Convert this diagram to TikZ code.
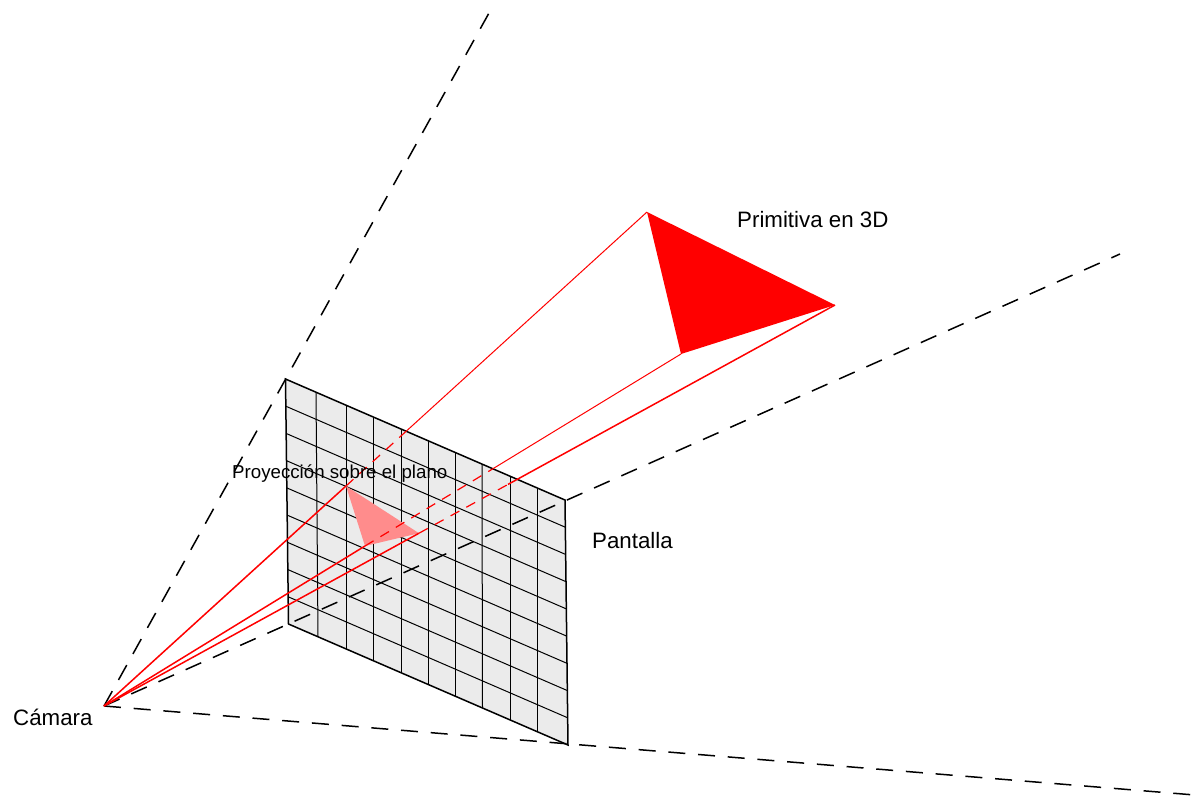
\documentclass[tikz,border=0pt]{standalone}
\usepackage{fontspec}
\setmainfont{Liberation Sans}
\usetikzlibrary{calc}
\tikzset{
  guide/.style={black,line width=1.5pt,dash pattern=on 17pt off 12.8pt},
  gridline/.style={black,line width=1pt},
  edge/.style={black,line width=1.5pt},
  ray/.style={red,line width=1.5pt},
  raythin/.style={red,line width=1pt},
  raydash/.style={red,line width=1.2pt,dash pattern=on 10pt off 8pt},
  lab/.style={inner sep=0pt,anchor=base west,text=black},
}
\definecolor{screenfill}{HTML}{EBEBEB}
\definecolor{projfill}{HTML}{FF8C8C}
\begin{document}
\begin{tikzpicture}[x=1pt,y=-1pt]
\useasboundingbox (0,0) rectangle (1195,796);
\fill[white] (0,0) rectangle (1195,796);
% points
\coordinate (cam) at (104,706);
\coordinate (tl) at (285.5,379);
\coordinate (tr) at (565,500);
\coordinate (br) at (568,745);
\coordinate (bl) at (288.5,624);
\coordinate (g1) at (489,13);
\coordinate (g2) at (1120,254);
\coordinate (g3) at (1195,795);
\coordinate (a) at (647,212);
\coordinate (b) at (835,305);
\coordinate (c) at (681,354);
\coordinate (pa) at (346,486);
\coordinate (pb) at (419,533.2);
\coordinate (pc) at (365,546);
\coordinate (xa) at (406,431.4);
\coordinate (xb) at (508,484.4);
\coordinate (xc) at (492.8,468.8);
% screen
\fill[screenfill] (tl) -- (tr) -- (br) -- (bl) -- cycle;
% grid
\foreach \xtop/\xbot in {316/318,346/346,373/373,401/401,428/428,455/455,482/482.5,510/510,537/537}{
  \pgfmathsetmacro{\ytop}{379+(\xtop-285.5)*0.4329}
  \pgfmathsetmacro{\ybot}{624+(\xbot-288.5)*0.4329}
  \draw[gridline] (\xtop,\ytop) -- (\xbot,\ybot);
}
\foreach \f in {1,...,8}{
  \draw[gridline] ($(tl)!\f/9!(bl)$) -- ($(tr)!\f/9!(br)$);
}
\draw[edge] (tl) -- (tr) -- (br) -- (bl) -- cycle;
% projection
\fill[projfill] (pa) -- (pb) -- (pc) -- cycle;
% frustum guides
\draw[guide] (cam) -- (g1);
\draw[guide] (cam) -- (g2);
\draw[guide] (cam) -- (g3);
% primitive
\fill[red] (a) -- (b) -- (c) -- cycle;
% rays
\draw[ray] (cam) -- (pa);
\draw[raydash] (pa) -- (xa);
\draw[raythin] (xa) -- (a);
\draw[ray] (cam) -- (pc);
\draw[raydash] (pc) -- (xc);
\draw[raythin] (xc) -- (c);
\draw[ray] (cam) -- (pb);
\draw[raydash] (pb) -- (xb);
\draw[ray] (xb) -- (b);
% labels
\node[lab,font=\fontsize{22.3}{26}\selectfont] (lprim) at (737,227) {Primitiva en 3D};
\node[lab,font=\fontsize{22.3}{26}\selectfont] (lpant) at (592,548) {Pantalla};
\node[lab,font=\fontsize{22.3}{26}\selectfont] (lcam) at (13,725) {Cámara};
\node[lab,font=\fontsize{18.7}{22}\selectfont] (lproy) at (232,478) {Proyección sobre el plano};
\end{tikzpicture}
\end{document}
